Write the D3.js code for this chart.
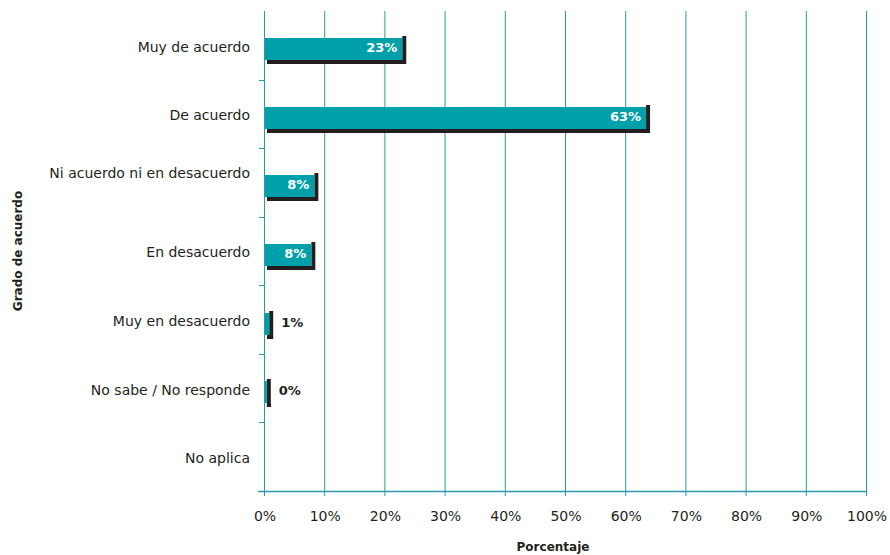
<!DOCTYPE html>
<html>
<head>
<meta charset="utf-8">
<script src="https://cdn.jsdelivr.net/npm/d3@7"></script>
<style>
  body { margin: 0; background: #fff; }
  text { font-family: 'DejaVu Sans', Verdana, sans-serif; }
</style>
</head>
<body>
<div id="chart"></div>
<script>
const categories = ['Muy de acuerdo', 'De acuerdo', 'Ni acuerdo ni en desacuerdo', 'En desacuerdo',
  'Muy en desacuerdo', 'No sabe / No responde', 'No aplica'];
const values = [22.8, 63.3, 8.2, 7.7, 0.7, 0.3, 0];
const valueLabels = ['23%', '63%', '8%', '8%', '1%', '0%', null];
const xTicks = [0, 10, 20, 30, 40, 50, 60, 70, 80, 90, 100];

let margin = { top: 11, right: 24, bottom: 64, left: 264 };
let width = 890;
let height = 555;
let chartWidth = width - margin.left - margin.right;
let chartHeight = height - margin.top - margin.bottom;

let teal = '#00a0ab';
let lineColor = '#2b9aa6';
let dark = '#231f20';

let svg = d3.select('#chart')
  .append('svg')
  .attr('width', width)
  .attr('height', height);

let g = svg.append('g')
  .attr('transform', `translate(${margin.left},${margin.top})`);

let x = d3.scaleLinear().domain([0, 100]).range([0, chartWidth]);
let y = d3.scaleBand().domain(categories).range([0, chartHeight]);

// vertical grid lines
g.selectAll('.grid')
  .data(xTicks.slice(1))
  .enter()
  .append('line')
  .attr('x1', d => x(d) + 0.5)
  .attr('x2', d => x(d) + 0.5)
  .attr('y1', 0)
  .attr('y2', chartHeight)
  .attr('stroke', lineColor)
  .attr('stroke-width', 1);

// y axis line + ticks at band boundaries
g.append('line')
  .attr('x1', 0.5).attr('x2', 0.5)
  .attr('y1', 0).attr('y2', chartHeight + 5)
  .attr('stroke', lineColor);

g.selectAll('.ytick')
  .data(categories.slice(1))
  .enter()
  .append('line')
  .attr('x1', -5).attr('x2', 0)
  .attr('y1', d => Math.round(y(d)) + 0.5)
  .attr('y2', d => Math.round(y(d)) + 0.5)
  .attr('stroke', lineColor);

// x axis
g.append('line')
  .attr('x1', -6).attr('x2', chartWidth + 1)
  .attr('y1', chartHeight + 0.5).attr('y2', chartHeight + 0.5)
  .attr('stroke', lineColor)
  .attr('stroke-width', 1.5);

g.selectAll('.xtick')
  .data(xTicks)
  .enter()
  .append('line')
  .attr('x1', d => x(d) + 0.5)
  .attr('x2', d => x(d) + 0.5)
  .attr('y1', chartHeight)
  .attr('y2', chartHeight + 5)
  .attr('stroke', lineColor);

g.selectAll('.xlabel')
  .data(xTicks)
  .enter()
  .append('text')
  .attr('x', d => x(d) + 1)
  .attr('y', chartHeight + 30)
  .attr('text-anchor', 'middle')
  .attr('font-size', '14px')
  .attr('fill', '#231f20')
  .text(d => d + '%');

// category labels
let labelOffset = { 'Ni acuerdo ni en desacuerdo': -11 };
g.selectAll('.ylabel')
  .data(categories)
  .enter()
  .append('text')
  .attr('x', -14)
  .attr('y', d => y(d) + y.bandwidth() / 2 + 1.5 + (labelOffset[d] || 0))
  .attr('dy', '0.35em')
  .attr('text-anchor', 'end')
  .attr('font-size', '14px')
  .attr('fill', '#231f20')
  .text(d => d);

// bars
let barH = 22;
let rows = categories.map((c, i) => ({ cat: c, value: values[i], label: valueLabels[i] }))
  .filter(d => d.value > 0);

let bars = g.selectAll('.bar-g')
  .data(rows)
  .enter()
  .append('g')
  .attr('transform', d => `translate(0,${Math.round(y(d.cat) + y.bandwidth() / 2 - 6)})`);

// shadow bottom
bars.append('rect')
  .attr('x', 3)
  .attr('y', barH - 1)
  .attr('width', d => Math.max(x(d.value) + 1, 4))
  .attr('height', 4)
  .attr('fill', dark);

// shadow right
bars.append('rect')
  .attr('x', d => x(d.value) + 1)
  .attr('y', -3)
  .attr('width', 4)
  .attr('height', barH + 6)
  .attr('fill', dark);

bars.append('rect')
  .attr('x', 1)
  .attr('y', -1)
  .attr('width', d => x(d.value))
  .attr('height', barH)
  .attr('fill', teal);

bars.append('text')
  .attr('x', d => d.value > 5 ? x(d.value) - 4 : x(d.value) + 13)
  .attr('y', barH / 2 - 3)
  .attr('dy', '0.35em')
  .attr('text-anchor', d => d.value > 5 ? 'end' : 'start')
  .attr('font-size', '13px')
  .attr('font-weight', 'bold')
  .attr('fill', d => d.value > 5 ? '#fff' : dark)
  .text(d => d.label);

// axis titles
svg.append('text')
  .attr('transform', `translate(22,${margin.top + chartHeight / 2}) rotate(-90)`)
  .attr('text-anchor', 'middle')
  .attr('font-size', '12px')
  .attr('font-weight', 'bold')
  .attr('fill', dark)
  .text('Grado de acuerdo');

svg.append('text')
  .attr('x', margin.left + chartWidth / 2 - 12)
  .attr('y', 551)
  .attr('text-anchor', 'middle')
  .attr('font-size', '12px')
  .attr('font-weight', 'bold')
  .attr('fill', dark)
  .text('Porcentaje');
</script>
</body>
</html>
